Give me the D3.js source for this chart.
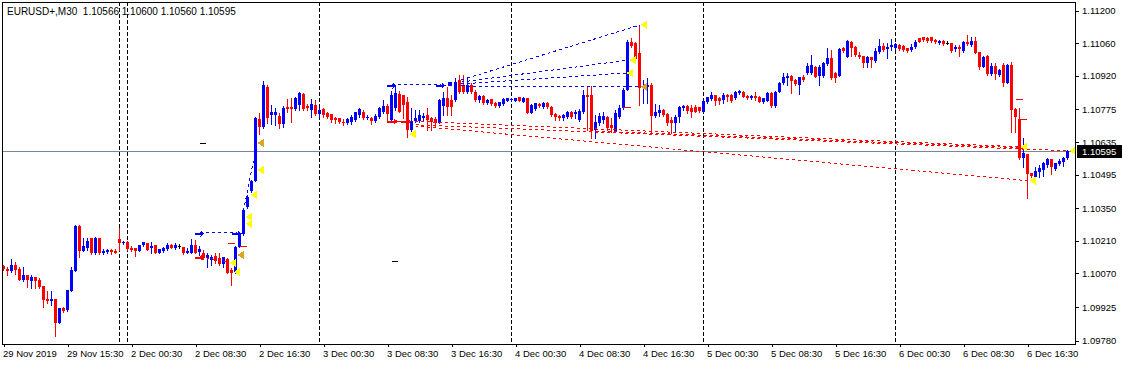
<!DOCTYPE html>
<html><head><meta charset="utf-8">
<script src="https://cdn.jsdelivr.net/npm/d3@7/dist/d3.min.js"></script>
<style>
html,body{margin:0;padding:0;background:#fff;}
svg{display:block;font-family:"Liberation Sans",Arial,sans-serif;}
</style></head><body>
<svg id="c" width="1122" height="365"></svg>
<script>
const symbol = "EURUSD+";
const period = "M30";
const labelBars = [0,16,32,48,64,80,96,112,128,144,160,176,192,208,224,240,256];
const timeLabels = ["29 Nov 2019","29 Nov 15:30","2 Dec 00:30","2 Dec 08:30","2 Dec 16:30","3 Dec 00:30","3 Dec 08:30","3 Dec 16:30","4 Dec 00:30","4 Dec 08:30","4 Dec 16:30","5 Dec 00:30","5 Dec 08:30","5 Dec 16:30","6 Dec 00:30","6 Dec 08:30","6 Dec 16:30"];
const priceTicks = [1.11200,1.11060,1.10920,1.10775,1.10635,1.10495,1.10350,1.10210,1.10070,1.09925,1.09780];
const separatorBars = [29,31,79,127,175,223];
const bidPrice = 1.10595;

const open = [1.10102,1.10088,1.10078,1.10107,1.10089,1.10042,1.10062,1.10038,1.10054,1.10042,1.10016,1.09960,1.09952,1.09959,1.09856,1.09920,1.09910,1.09996,1.10082,1.10274,1.10168,1.10178,1.10221,1.10157,1.10221,1.10159,1.10161,1.10170,1.10167,1.10218,1.10200,1.10204,1.10178,1.10178,1.10167,1.10190,1.10200,1.10178,1.10193,1.10157,1.10164,1.10174,1.10193,1.10180,1.10188,1.10185,1.10159,1.10157,1.10193,1.10161,1.10157,1.10135,1.10128,1.10145,1.10135,1.10111,1.10131,1.10085,1.10076,1.10184,1.10240,1.10356,1.10425,1.10468,1.10734,1.10700,1.10872,1.10752,1.10752,1.10747,1.10713,1.10786,1.10786,1.10777,1.10795,1.10842,1.10792,1.10773,1.10795,1.10756,1.10777,1.10759,1.10755,1.10737,1.10737,1.10723,1.10718,1.10723,1.10730,1.10752,1.10766,1.10737,1.10740,1.10726,1.10744,1.10763,1.10792,1.10730,1.10780,1.10841,1.10838,1.10809,1.10687,1.10726,1.10726,1.10740,1.10752,1.10737,1.10734,1.10716,1.10792,1.10823,1.10816,1.10816,1.10902,1.10876,1.10852,1.10881,1.10852,1.10816,1.10833,1.10804,1.10819,1.10804,1.10790,1.10799,1.10813,1.10815,1.10813,1.10828,1.10809,1.10823,1.10761,1.10776,1.10798,1.10785,1.10804,1.10787,1.10756,1.10749,1.10737,1.10742,1.10766,1.10756,1.10730,1.10766,1.10838,1.10838,1.10687,1.10716,1.10730,1.10742,1.10709,1.10684,1.10744,1.10780,1.10859,1.11067,1.11060,1.11017,1.10868,1.10873,1.10881,1.10747,1.10759,1.10773,1.10756,1.10730,1.10718,1.10742,1.10780,1.10790,1.10780,1.10787,1.10785,1.10766,1.10809,1.10819,1.10838,1.10823,1.10816,1.10838,1.10838,1.10823,1.10845,1.10852,1.10833,1.10823,1.10833,1.10830,1.10809,1.10813,1.10847,1.10790,1.10852,1.10888,1.10909,1.10919,1.10902,1.10881,1.10916,1.10931,1.10931,1.10959,1.10919,1.10919,1.10971,1.10995,1.10931,1.10919,1.11038,1.11002,1.11067,1.11045,1.11010,1.11005,1.10974,1.11002,1.10985,1.11024,1.11048,1.11034,1.11043,1.11038,1.11052,1.11048,1.11038,1.11031,1.11043,1.11081,1.11086,1.11081,1.11086,1.11074,1.11060,1.11071,1.11062,1.11060,1.11034,1.11043,1.11028,1.11067,1.11052,1.11071,1.11024,1.10959,1.11005,1.10928,1.10962,1.10924,1.10967,1.10890,1.10967,1.10776,1.10733,1.10565,1.10584,1.10501,1.10486,1.10508,1.10515,1.10537,1.10561,1.10518,1.10541,1.10551,1.10566];
const high = [1.10107,1.10097,1.10132,1.10118,1.10099,1.10099,1.10064,1.10064,1.10055,1.10048,1.10016,1.09996,1.09996,1.09960,1.09922,1.09925,1.10000,1.10099,1.10279,1.10279,1.10221,1.10221,1.10222,1.10227,1.10224,1.10174,1.10174,1.10174,1.10174,1.10264,1.10211,1.10207,1.10188,1.10178,1.10193,1.10204,1.10202,1.10204,1.10193,1.10175,1.10185,1.10200,1.10197,1.10200,1.10197,1.10185,1.10178,1.10217,1.10214,1.10188,1.10171,1.10157,1.10150,1.10157,1.10157,1.10142,1.10135,1.10092,1.10188,1.10248,1.10352,1.10408,1.10472,1.10743,1.10760,1.10898,1.10881,1.10795,1.10782,1.10760,1.10790,1.10820,1.10825,1.10830,1.10850,1.10844,1.10798,1.10820,1.10816,1.10780,1.10780,1.10763,1.10756,1.10744,1.10740,1.10734,1.10740,1.10752,1.10766,1.10783,1.10772,1.10752,1.10744,1.10755,1.10787,1.10816,1.10798,1.10855,1.10881,1.10855,1.10838,1.10829,1.10780,1.10773,1.10773,1.10759,1.10780,1.10744,1.10744,1.10820,1.10852,1.10873,1.10838,1.10911,1.10924,1.10924,1.10916,1.10889,1.10859,1.10838,1.10838,1.10819,1.10820,1.10807,1.10809,1.10823,1.10826,1.10826,1.10826,1.10830,1.10828,1.10825,1.10799,1.10804,1.10803,1.10806,1.10806,1.10790,1.10761,1.10752,1.10755,1.10769,1.10769,1.10773,1.10776,1.10859,1.10876,1.10876,1.10752,1.10759,1.10764,1.10747,1.10737,1.10773,1.10795,1.10868,1.11074,1.11083,1.11065,1.11139,1.10902,1.10909,1.10888,1.10799,1.10795,1.10777,1.10760,1.10744,1.10752,1.10790,1.10795,1.10795,1.10795,1.10795,1.10787,1.10816,1.10830,1.10852,1.10839,1.10830,1.10845,1.10842,1.10842,1.10855,1.10859,1.10855,1.10838,1.10838,1.10852,1.10833,1.10826,1.10850,1.10850,1.10855,1.10895,1.10931,1.10931,1.10924,1.10906,1.10916,1.10924,1.10974,1.11010,1.10962,1.10967,1.10981,1.11038,1.11031,1.10938,1.11038,1.11045,1.11074,1.11068,1.11048,1.11024,1.11005,1.11005,1.11002,1.11038,1.11077,1.11060,1.11060,1.11077,1.11060,1.11055,1.11052,1.11041,1.11055,1.11074,1.11084,1.11088,1.11086,1.11087,1.11077,1.11074,1.11074,1.11070,1.11060,1.11052,1.11052,1.11071,1.11096,1.11088,1.11088,1.11024,1.11005,1.11010,1.10974,1.10974,1.10949,1.10974,1.10971,1.10981,1.10780,1.10780,1.10651,1.10584,1.10503,1.10529,1.10537,1.10551,1.10565,1.10561,1.10546,1.10561,1.10570,1.10600];
const low = [1.10085,1.10064,1.10075,1.10068,1.10040,1.10038,1.10013,1.10006,1.10006,1.10006,1.09927,1.09942,1.09935,1.09801,1.09855,1.09903,1.09909,1.09995,1.10081,1.10140,1.10167,1.10171,1.10154,1.10154,1.10154,1.10151,1.10157,1.10154,1.10156,1.10171,1.10197,1.10171,1.10164,1.10145,1.10164,1.10188,1.10170,1.10157,1.10156,1.10156,1.10161,1.10171,1.10177,1.10175,1.10177,1.10153,1.10156,1.10156,1.10156,1.10150,1.10131,1.10099,1.10107,1.10114,1.10107,1.10099,1.10071,1.10021,1.10072,1.10183,1.10236,1.10352,1.10420,1.10467,1.10670,1.10696,1.10717,1.10713,1.10709,1.10696,1.10700,1.10766,1.10723,1.10773,1.10773,1.10773,1.10772,1.10744,1.10752,1.10744,1.10744,1.10740,1.10723,1.10716,1.10716,1.10709,1.10712,1.10712,1.10726,1.10744,1.10736,1.10734,1.10712,1.10723,1.10737,1.10759,1.10723,1.10723,1.10773,1.10763,1.10737,1.10658,1.10683,1.10723,1.10723,1.10730,1.10687,1.10687,1.10701,1.10715,1.10752,1.10752,1.10752,1.10812,1.10845,1.10845,1.10845,1.10846,1.10813,1.10809,1.10799,1.10799,1.10796,1.10786,1.10787,1.10796,1.10812,1.10812,1.10812,1.10812,1.10807,1.10760,1.10760,1.10773,1.10786,1.10782,1.10782,1.10747,1.10730,1.10730,1.10730,1.10737,1.10737,1.10737,1.10727,1.10761,1.10687,1.10651,1.10651,1.10709,1.10717,1.10687,1.10680,1.10680,1.10739,1.10779,1.10858,1.11044,1.10988,1.10795,1.10803,1.10804,1.10680,1.10744,1.10747,1.10747,1.10709,1.10673,1.10680,1.10723,1.10773,1.10759,1.10742,1.10763,1.10766,1.10763,1.10804,1.10816,1.10795,1.10799,1.10804,1.10813,1.10807,1.10822,1.10842,1.10828,1.10819,1.10819,1.10816,1.10806,1.10802,1.10812,1.10787,1.10787,1.10850,1.10885,1.10881,1.10845,1.10881,1.10842,1.10898,1.10928,1.10928,1.10914,1.10881,1.10916,1.10967,1.10905,1.10895,1.10918,1.11024,1.11001,1.11005,1.11005,1.10995,1.10959,1.10957,1.10957,1.10981,1.11019,1.11028,1.10995,1.11031,1.11035,1.11031,1.11028,1.11024,1.11027,1.11038,1.11064,1.11070,1.11067,1.11067,1.11061,1.11057,1.11054,1.11055,1.11024,1.11028,1.11005,1.11024,1.11052,1.11048,1.11017,1.10948,1.10957,1.10924,1.10924,1.10905,1.10919,1.10876,1.10888,1.10680,1.10680,1.10564,1.10527,1.10393,1.10486,1.10469,1.10486,1.10489,1.10527,1.10498,1.10515,1.10537,1.10532,1.10560];
const close = [1.10089,1.10082,1.10107,1.10085,1.10042,1.10064,1.10042,1.10052,1.10038,1.10013,1.09956,1.09952,1.09959,1.09856,1.09920,1.09906,1.09999,1.10085,1.10274,1.10168,1.10188,1.10207,1.10157,1.10221,1.10157,1.10168,1.10170,1.10161,1.10158,1.10202,1.10205,1.10175,1.10171,1.10168,1.10193,1.10204,1.10171,1.10188,1.10157,1.10174,1.10178,1.10193,1.10178,1.10190,1.10188,1.10157,1.10164,1.10193,1.10157,1.10174,1.10135,1.10150,1.10142,1.10121,1.10111,1.10140,1.10073,1.10071,1.10184,1.10244,1.10343,1.10399,1.10468,1.10739,1.10700,1.10881,1.10739,1.10764,1.10764,1.10713,1.10782,1.10777,1.10777,1.10825,1.10846,1.10777,1.10780,1.10798,1.10756,1.10773,1.10752,1.10744,1.10730,1.10730,1.10720,1.10716,1.10734,1.10744,1.10763,1.10777,1.10737,1.10744,1.10726,1.10749,1.10783,1.10792,1.10756,1.10838,1.10845,1.10766,1.10795,1.10687,1.10726,1.10740,1.10752,1.10749,1.10730,1.10720,1.10716,1.10816,1.10823,1.10787,1.10787,1.10893,1.10852,1.10852,1.10881,1.10852,1.10816,1.10833,1.10802,1.10816,1.10799,1.10790,1.10809,1.10819,1.10823,1.10822,1.10823,1.10813,1.10823,1.10761,1.10795,1.10802,1.10790,1.10804,1.10785,1.10752,1.10742,1.10737,1.10752,1.10766,1.10742,1.10766,1.10770,1.10838,1.10830,1.10687,1.10723,1.10747,1.10747,1.10694,1.10694,1.10759,1.10780,1.10859,1.11067,1.11048,1.10991,1.10869,1.10876,1.10881,1.10747,1.10766,1.10773,1.10752,1.10718,1.10718,1.10742,1.10787,1.10790,1.10770,1.10766,1.10766,1.10769,1.10813,1.10828,1.10838,1.10813,1.10812,1.10838,1.10828,1.10812,1.10852,1.10855,1.10830,1.10823,1.10833,1.10823,1.10809,1.10823,1.10847,1.10790,1.10852,1.10888,1.10916,1.10919,1.10899,1.10885,1.10914,1.10902,1.10962,1.10967,1.10916,1.10959,1.10976,1.10995,1.10909,1.10909,1.11034,1.11028,1.11071,1.11038,1.11010,1.11002,1.10974,1.11002,1.10988,1.11028,1.11048,1.11031,1.11043,1.11052,1.11057,1.11034,1.11031,1.11028,1.11045,1.11067,1.11067,1.11074,1.11071,1.11071,1.11064,1.11071,1.11057,1.11062,1.11028,1.11045,1.11037,1.11067,1.11057,1.11071,1.11019,1.10959,1.11002,1.10928,1.10962,1.10928,1.10945,1.10890,1.10967,1.10773,1.10742,1.10565,1.10589,1.10498,1.10489,1.10512,1.10522,1.10546,1.10561,1.10527,1.10544,1.10555,1.10565,1.10595];

// trade history objects, in (bar index, price)
const buyLines = [[49,1.10245,58.3,1.10245],[60,1.10340,63.4,1.10631],[97,1.10881,109.3,1.10881],[114.5,1.10902,159.2,1.11139],[114.5,1.10893,156.4,1.10988],[114.5,1.10885,155.7,1.10932],[114.5,1.10876,159.2,1.10872]];
const sellLines = [[49.2,1.10141,56,1.10120],[103,1.10724,254.2,1.10614],[103,1.10709,266.2,1.10597],[103,1.10704,256.4,1.10468],[146.7,1.10683,254.2,1.10610]];
const buyArrows = [[49,1.10245],[58.3,1.10245],[97,1.10881],[109.3,1.10881]];
const sellArrows = [[49.2,1.10141],[97.4,1.10724],[100.7,1.10724]];
const buySquares = [[111.7,1.10884]];
const redMarks = [[56.2,57.9,1.10202],[59.2,60.9,1.10188],[154.9,156.9,1.10786],[253.2,254.9,1.10819],[253.7,255.9,1.10733],[97.4,100.7,1.10724]];
const blackMarks = [[49.2,50.7,1.10631],[97.2,98.7,1.10123]];
const yellowTris = [[56.6,1.10115],[57.6,1.10076],[60.6,1.10313],[60.6,1.10283],[61.8,1.10408],[63.5,1.10515],[101.5,1.10670],[155.8,1.10932],[156.5,1.10988],[159.3,1.11139],[254.3,1.10614],[256.5,1.10468],[266.5,1.10597]];
const orangeTris = [[58.5,1.10149],[63.5,1.10631],[159.3,1.10872]];

const svg = d3.select("#c");
const L = 2, T = 2, R = 1076, B = 344;
const x = d3.scaleLinear().domain([0, 266]).range([3.5, 1067.5]);
const y = d3.scaleLinear().domain([1.0978, 1.112]).range([340.7, 10.7]);
const fmt = d3.format(".5f");

svg.append("rect").attr("width",1122).attr("height",365).attr("fill","#fff");

// separators
svg.append("g").selectAll("line").data(separatorBars).join("line")
  .attr("x1", d => x(d)).attr("x2", d => x(d)).attr("y1", T).attr("y2", B)
  .attr("stroke","#000").attr("stroke-dasharray","4,2").attr("shape-rendering","crispEdges");

// bid line
svg.append("line").attr("x1",L).attr("x2",R).attr("y1",Math.round(y(bidPrice))+0.5).attr("y2",Math.round(y(bidPrice))+0.5)
  .attr("stroke","#778899").attr("shape-rendering","crispEdges");

// candles
const bars = d3.range(open.length).map(i => ({i, o:open[i], h:high[i], l:low[i], c:close[i]}));
const col = d => d.c > d.o ? "#0000ff" : (d.c < d.o ? "#ff0000" : "#000");
const cg = svg.append("g").attr("shape-rendering","crispEdges");
cg.selectAll("line").data(bars).join("line")
  .attr("x1", d => x(d.i)).attr("x2", d => x(d.i))
  .attr("y1", d => Math.round(y(d.h))).attr("y2", d => Math.round(y(d.l)) + 1)
  .attr("stroke", col);
cg.selectAll("rect").data(bars).join("rect")
  .attr("x", d => x(d.i) - 1.5).attr("width", 3)
  .attr("y", d => Math.round(y(Math.max(d.o, d.c))))
  .attr("height", d => Math.max(1, Math.round(y(Math.min(d.o, d.c))) - Math.round(y(Math.max(d.o, d.c)))))
  .attr("fill", col);

// trade lines
const tg = svg.append("g").attr("shape-rendering","crispEdges");
tg.selectAll(".bl").data(buyLines).join("line").attr("class","bl")
  .attr("x1", d => x(d[0])).attr("y1", d => y(d[1])).attr("x2", d => x(d[2])).attr("y2", d => y(d[3]))
  .attr("stroke","#0000ff").attr("stroke-dasharray","3,3");
tg.selectAll(".sl").data(sellLines).join("line").attr("class","sl")
  .attr("x1", d => x(d[0])).attr("y1", d => y(d[1])).attr("x2", d => x(d[2])).attr("y2", d => y(d[3]))
  .attr("stroke","#ff0000").attr("stroke-dasharray","3,3");
tg.selectAll(".rm").data(redMarks).join("line").attr("class","rm")
  .attr("x1", d => x(d[0])).attr("x2", d => x(d[1])).attr("y1", d => Math.round(y(d[2]))+0.5).attr("y2", d => Math.round(y(d[2]))+0.5)
  .attr("stroke","#ff0000").attr("stroke-width",1);
tg.selectAll(".km").data(blackMarks).join("line").attr("class","km")
  .attr("x1", d => x(d[0])).attr("x2", d => x(d[1])).attr("y1", d => Math.round(y(d[2]))+0.5).attr("y2", d => Math.round(y(d[2]))+0.5)
  .attr("stroke","#000");
const arrowPath = d => { const ax = x(d[0]), ay = Math.round(y(d[1])) + 0.5;
  return `M${ax-5},${ay-1}h6v-2l4,3l-4,3v-2h-6z`; };
tg.selectAll(".ba").data(buyArrows).join("path").attr("class","ba").attr("d", arrowPath).attr("fill","#0000ff");
tg.selectAll(".sa").data(sellArrows).join("path").attr("class","sa").attr("d", arrowPath).attr("fill","#ff0000");
tg.selectAll(".bs").data(buySquares).join("rect").attr("class","bs")
  .attr("x", d => x(d[0]) - 2).attr("y", d => Math.round(y(d[1])) - 2).attr("width",4).attr("height",4).attr("fill","#0000ff");
const triPath = d => { const tx = x(d[0]), ty = y(d[1]); return `M${tx},${ty}L${tx+6},${ty-4}L${tx+6},${ty+4}Z`; };
tg.selectAll(".yt").data(yellowTris).join("path").attr("class","yt").attr("d", triPath).attr("fill","#ffff00");
tg.selectAll(".ot").data(orangeTris).join("path").attr("class","ot").attr("d", triPath).attr("fill","#daa520");

// frame
svg.append("rect").attr("x",L+0.5).attr("y",T+0.5).attr("width",R-L-1).attr("height",B-T)
  .attr("fill","none").attr("stroke","#000").attr("shape-rendering","crispEdges");

// right axis
const ra = svg.append("g").attr("transform",`translate(${R},0)`)
  .call(d3.axisRight(y).tickValues(priceTicks).tickSize(3).tickPadding(3).tickFormat(fmt));
ra.select(".domain").remove();
ra.selectAll("text").attr("font-size","9.5px").attr("font-family","Liberation Sans, Arial, sans-serif").attr("fill","#000");
ra.selectAll("line").attr("stroke","#000").attr("shape-rendering","crispEdges");

// bottom axis
const ba = svg.append("g").attr("transform",`translate(0,${B})`)
  .call(d3.axisBottom(x).tickValues(labelBars).tickSize(3).tickPadding(3).tickFormat((d,i) => timeLabels[i]));
ba.select(".domain").remove();
ba.selectAll("text").attr("text-anchor","start").attr("dx","-1").attr("font-size","9.5px").attr("font-family","Liberation Sans, Arial, sans-serif").attr("fill","#000");
ba.selectAll("line").attr("stroke","#000").attr("shape-rendering","crispEdges");

// bid label
const by = y(bidPrice);
svg.append("rect").attr("x",R+1).attr("y",Math.round(by)-6).attr("width",45).attr("height",13).attr("fill","#000");
svg.append("text").attr("x",R+6).attr("y",by).attr("dy","0.34em").attr("font-size","9.5px").attr("fill","#fff").text(fmt(bidPrice));

// title
const last = open.length - 1;
svg.append("text").attr("x",7).attr("y",15).attr("font-size","10px").attr("fill","#000")
  .attr("xml:space","preserve")
  .text(`${symbol},${period}  ${fmt(open[last])} ${fmt(high[last])} ${fmt(low[last])} ${fmt(close[last])}`);
</script>
</body></html>
